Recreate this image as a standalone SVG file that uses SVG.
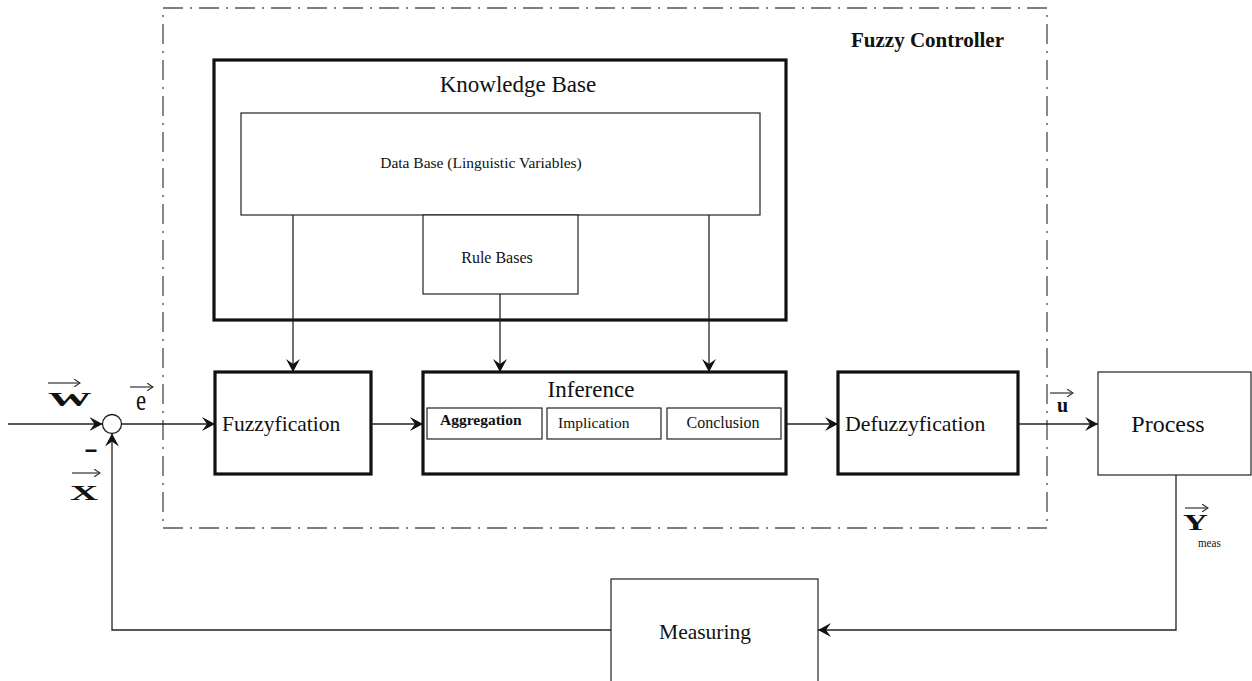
<svg xmlns="http://www.w3.org/2000/svg" width="1252" height="681" viewBox="0 0 1252 681">
<style>
text{font-family:"Liberation Serif","Times New Roman",serif;fill:#111}
.thick{fill:#fff;stroke:#111;stroke-width:3.2}
.thin{fill:#fff;stroke:#222;stroke-width:1.2}
.line{fill:none;stroke:#222;stroke-width:1.3}
.vec{fill:none;stroke:#333;stroke-width:1.2}
</style>
<defs>
<marker id="ah" markerWidth="16" markerHeight="16" refX="13" refY="7" orient="auto" markerUnits="userSpaceOnUse">
<path d="M0,0 L13,7 L0,14 L5,7 z" fill="#111"/>
</marker>
<marker id="va" markerWidth="8" markerHeight="8" refX="6" refY="4" orient="auto" markerUnits="userSpaceOnUse">
<path d="M0,0 L6,4 L0,8" fill="none" stroke="#333" stroke-width="1.1"/>
</marker>
</defs>
<rect id="controller-frame" x="163" y="8" width="884" height="520" fill="none" stroke="#555" stroke-width="1.4" stroke-dasharray="20,7,2,7"/>
<text x="1004" y="47" font-size="21" font-weight="bold" text-anchor="end">Fuzzy Controller</text>
<g id="knowledge-base">
<rect class="thick" x="214" y="60" width="572" height="260"/>
<text x="518" y="92" font-size="23" text-anchor="middle">Knowledge Base</text>
</g>
<g id="data-base">
<rect class="thin" x="241" y="113" width="519" height="102"/>
<text x="481" y="168" font-size="15.5" text-anchor="middle">Data Base (Linguistic Variables)</text>
</g>
<g id="rule-bases">
<rect class="thin" x="423" y="215" width="155" height="79"/>
<text x="497" y="263" font-size="16" text-anchor="middle">Rule Bases</text>
</g>
<g id="fuzzyfication">
<rect class="thick" x="215" y="372" width="156" height="102"/>
<text x="222" y="431" font-size="21.5">Fuzzyfication</text>
</g>
<g id="inference">
<rect class="thick" x="423" y="372" width="363" height="102"/>
<text x="591" y="397" font-size="23" text-anchor="middle">Inference</text>
<rect class="thin" x="427" y="408" width="115" height="31"/>
<text x="440" y="425" font-size="15.5" font-weight="bold">Aggregation</text>
<rect class="thin" x="547" y="408" width="114" height="31"/>
<text x="558" y="428" font-size="15.5">Implication</text>
<rect class="thin" x="667" y="408" width="114" height="31"/>
<text x="723" y="428" font-size="16" text-anchor="middle">Conclusion</text>
</g>
<g id="defuzzyfication">
<rect class="thick" x="838" y="372" width="180" height="102"/>
<text x="845" y="431" font-size="21.8">Defuzzyfication</text>
</g>
<g id="process">
<rect class="thin" x="1098" y="372" width="153" height="103"/>
<text x="1168" y="432" font-size="24" text-anchor="middle">Process</text>
</g>
<g id="measuring">
<rect class="thin" x="611" y="579" width="207" height="110"/>
<text x="705" y="639" font-size="21.5" text-anchor="middle">Measuring</text>
</g>
<g id="summing-junction">
<circle cx="112" cy="424" r="9.5" fill="#fff" stroke="#222" stroke-width="1.3"/>
</g>
<g id="connectors">
<path class="line" d="M293,215 V372" marker-end="url(#ah)"/>
<path class="line" d="M500,294 V372" marker-end="url(#ah)"/>
<path class="line" d="M709,215 V372" marker-end="url(#ah)"/>
<path class="line" d="M8,424 H102.5" marker-end="url(#ah)"/>
<path class="line" d="M121.5,424 H215" marker-end="url(#ah)"/>
<path class="line" d="M371,424 H423" marker-end="url(#ah)"/>
<path class="line" d="M786,424 H838" marker-end="url(#ah)"/>
<path class="line" d="M1018,424 H1098" marker-end="url(#ah)"/>
<path class="line" d="M1176,475 V630 H818" marker-end="url(#ah)"/>
<path class="line" d="M611,630 H112 V433.5" marker-end="url(#ah)"/>
</g>
<g id="labels">
<text transform="translate(48,406) scale(2.3,1)" font-size="19" font-weight="bold">W</text>
<path class="vec" d="M48,383 H80" marker-end="url(#va)"/>
<text transform="translate(136,410) scale(0.95,1.25)" font-size="24">e</text>
<path class="vec" d="M130,387 H153" marker-end="url(#va)"/>
<text transform="translate(84,458) scale(1.4,1)" font-size="30" font-weight="bold">-</text>
<text transform="translate(70,500) scale(1.95,1)" font-size="20" font-weight="bold">X</text>
<path class="vec" d="M72,473 H100" marker-end="url(#va)"/>
<text x="1057" y="412" font-size="20" font-weight="bold">u</text>
<path class="vec" d="M1050,393 H1073" marker-end="url(#va)"/>
<text transform="translate(1183,530) scale(1.5,1)" font-size="23" font-weight="bold">Y</text>
<path class="vec" d="M1185,508 H1208" marker-end="url(#va)"/>
<text transform="translate(1198,547) scale(0.85,1)" font-size="13">meas</text>
</g>
</svg>
